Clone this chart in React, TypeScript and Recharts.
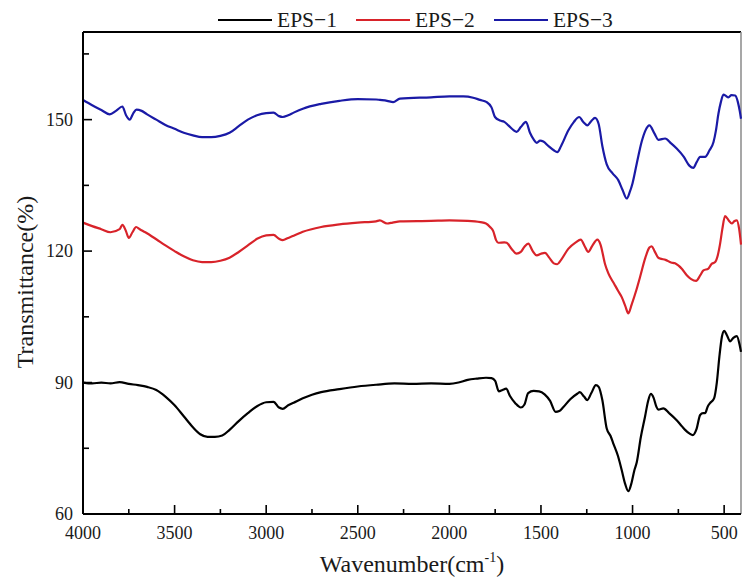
import { LineChart, Line, XAxis, YAxis, ReferenceLine, Label } from 'recharts';

// FTIR spectra, [wavenumber (cm-1), transmittance (%)]
const eps1 = [
  [4000, 90.0], [3950, 89.8], [3900, 90.0], [3850, 89.8], [3800, 90.1], [3750, 89.7],
  [3700, 89.4], [3650, 89.0], [3600, 88.3], [3550, 86.8], [3500, 84.8], [3450, 82.3],
  [3400, 79.8], [3360, 78.2], [3320, 77.6], [3280, 77.6], [3240, 77.9], [3200, 79.2],
  [3150, 81.2], [3100, 83.0], [3050, 84.6], [3000, 85.5], [2960, 85.6], [2930, 84.3],
  [2910, 84.0], [2880, 84.8], [2850, 85.4], [2800, 86.4], [2750, 87.2], [2700, 87.8],
  [2600, 88.5], [2500, 89.1], [2400, 89.5], [2300, 89.8], [2200, 89.7], [2100, 89.8],
  [2000, 89.7], [1950, 90.0], [1900, 90.6], [1850, 90.9], [1800, 91.1], [1770, 91.0],
  [1750, 90.4], [1730, 88.0], [1710, 88.3], [1690, 88.6], [1670, 87.0], [1640, 85.3],
  [1610, 84.3], [1590, 85.0], [1570, 87.6], [1540, 88.1], [1510, 88.0], [1480, 87.3],
  [1450, 85.8], [1420, 83.3], [1400, 83.5], [1380, 84.3], [1340, 86.2], [1300, 87.5],
  [1288, 87.8], [1265, 86.8], [1247, 86.0], [1225, 87.6], [1200, 89.4], [1185, 89.0],
  [1165, 86.0], [1141, 79.5], [1120, 77.8], [1106, 76.2], [1080, 73.3], [1059, 70.0],
  [1040, 66.8], [1023, 65.2], [1005, 67.2], [990, 70.0], [977, 71.8], [955, 77.5],
  [932, 82.2], [915, 85.8], [900, 87.4], [885, 86.5], [870, 84.5], [859, 83.8],
  [832, 84.1], [800, 83.0], [759, 81.4], [730, 80.0], [713, 79.2], [690, 78.4],
  [671, 78.0], [650, 79.5], [631, 82.6], [615, 83.0], [604, 83.0], [590, 84.5],
  [577, 85.3], [555, 86.4], [540, 90.0], [526, 95.9], [512, 100.5], [500, 101.8],
  [485, 100.8], [467, 99.4], [450, 100.2], [431, 100.6], [415, 98.5], [408, 97.0],
];

const eps2 = [
  [4000, 126.5], [3950, 125.7], [3900, 125.0], [3850, 124.3], [3800, 125.0], [3785, 126.0],
  [3765, 124.5], [3750, 123.0], [3730, 124.3], [3710, 125.5], [3690, 125.0], [3660, 124.3],
  [3600, 122.7], [3550, 121.3], [3500, 120.0], [3450, 118.8], [3400, 117.9], [3350, 117.5],
  [3300, 117.5], [3250, 117.8], [3200, 118.5], [3150, 119.8], [3100, 121.3], [3050, 122.8],
  [3000, 123.6], [2960, 123.7], [2930, 122.8], [2910, 122.5], [2880, 123.0], [2850, 123.5],
  [2800, 124.4], [2700, 125.5], [2600, 126.1], [2500, 126.5], [2400, 126.8], [2380, 127.0],
  [2340, 126.3], [2310, 126.5], [2270, 126.8], [2100, 126.9], [2000, 127.0], [1900, 126.9],
  [1830, 126.6], [1800, 126.3], [1778, 125.5], [1760, 124.5], [1745, 122.5], [1733, 121.9],
  [1700, 122.0], [1687, 121.9], [1660, 120.5], [1633, 119.4], [1610, 119.8], [1590, 121.0],
  [1569, 121.7], [1545, 120.0], [1523, 119.0], [1500, 119.4], [1478, 119.6], [1455, 118.5],
  [1430, 117.2], [1411, 117.0], [1390, 118.0], [1351, 120.5], [1310, 122.0], [1283, 122.6],
  [1260, 121.0], [1242, 119.8], [1220, 121.2], [1192, 122.6], [1175, 121.5], [1150, 117.0],
  [1132, 114.9], [1100, 112.5], [1080, 111.0], [1059, 109.5], [1040, 107.5], [1023, 105.8],
  [1005, 107.8], [980, 111.0], [959, 114.1], [930, 118.5], [908, 120.8], [895, 121.1],
  [880, 120.0], [860, 118.5], [850, 118.3], [820, 118.0], [790, 117.4], [768, 117.2],
  [730, 115.9], [704, 114.5], [680, 113.6], [653, 113.2], [630, 114.5], [613, 115.6],
  [586, 116.0], [570, 117.0], [549, 117.5], [535, 119.0], [522, 121.7], [510, 125.0],
  [495, 128.0], [475, 127.0], [458, 126.3], [445, 126.8], [431, 127.0], [418, 125.0],
  [408, 121.5],
];

const eps3 = [
  [4000, 154.5], [3950, 153.3], [3900, 152.2], [3854, 151.2], [3820, 152.0], [3785, 153.0],
  [3765, 151.0], [3745, 150.0], [3725, 151.5], [3708, 152.3], [3680, 152.0], [3650, 151.2],
  [3600, 150.0], [3550, 148.8], [3500, 147.9], [3450, 147.0], [3400, 146.4], [3350, 146.0],
  [3300, 146.0], [3250, 146.3], [3200, 147.0], [3150, 148.5], [3100, 150.0], [3050, 151.0],
  [3000, 151.5], [2960, 151.6], [2930, 150.8], [2910, 150.6], [2880, 151.0], [2850, 151.6],
  [2800, 152.5], [2700, 153.6], [2600, 154.3], [2500, 154.7], [2400, 154.6], [2379, 154.5],
  [2340, 154.3], [2307, 154.0], [2270, 154.8], [2100, 155.1], [2000, 155.3], [1924, 155.3],
  [1870, 155.0], [1833, 154.5], [1796, 154.0], [1770, 152.8], [1751, 150.6], [1724, 149.8],
  [1700, 149.5], [1678, 148.7], [1650, 147.6], [1633, 147.2], [1610, 148.3], [1582, 149.5],
  [1560, 147.0], [1540, 145.5], [1523, 144.7], [1505, 145.2], [1487, 145.0], [1460, 144.0],
  [1430, 143.0], [1411, 142.6], [1390, 144.0], [1351, 147.5], [1320, 149.5], [1291, 150.6],
  [1270, 149.5], [1247, 148.7], [1225, 149.7], [1205, 150.4], [1185, 149.0], [1165, 144.0],
  [1141, 139.8], [1110, 137.8], [1078, 136.2], [1055, 134.0], [1032, 132.0], [1015, 133.5],
  [1000, 135.5], [977, 140.0], [950, 145.0], [930, 147.5], [908, 148.7], [880, 146.8],
  [859, 145.4], [822, 145.7], [790, 144.6], [759, 143.4], [720, 141.5], [690, 139.5],
  [668, 139.0], [650, 140.3], [631, 141.5], [604, 141.5], [580, 143.0], [558, 144.9],
  [545, 147.5], [531, 151.4], [518, 154.0], [504, 155.7], [490, 155.4], [477, 155.1],
  [460, 155.6], [440, 155.5], [425, 154.0], [415, 152.0], [408, 150.2],
];

const seriesNames = ['EPS\u22121', 'EPS\u22122', 'EPS\u22123'];
const seriesColors = ['#000000', '#d8232a', '#1a1aa6'];
const seriesPoints = [eps1, eps2, eps3];

const xTicks = [500, 750, 1000, 1250, 1500, 1750, 2000, 2250, 2500, 2750, 3000, 3250, 3500, 3750, 4000];
const yTicks = [60, 75, 90, 105, 120, 135, 150, 165];

const FONT = '"Liberation Serif", "Times New Roman", serif';
const INK = '#1a1a1a';

const toRows = (pts: number[][]) => pts.map(([wn, t]) => ({ wn, t }));

function XTick(props: any) {
  const { x, y, payload } = props;
  const major = payload.value % 500 === 0;
  return (
    <g>
      <line x1={x} x2={x} y1={y} y2={y - (major ? 9 : 5)} stroke="#000" strokeWidth={1.6} />
      {major && (
        <text x={x} y={y + 25} textAnchor="middle" fontSize={18} fontFamily={FONT} fill={INK}>
          {payload.value}
        </text>
      )}
    </g>
  );
}

function YTick(props: any) {
  const { x, y, payload } = props;
  const major = payload.value % 30 === 0;
  return (
    <g>
      <line x1={x} x2={x + (major ? 9 : 6)} y1={y} y2={y} stroke="#000" strokeWidth={1.6} />
      {major && (
        <text x={x - 10} y={y + 6} textAnchor="end" fontSize={18} fontFamily={FONT} fill={INK}>
          {payload.value}
        </text>
      )}
    </g>
  );
}

function LegendRow() {
  return (
    <div
      style={{
        position: 'absolute',
        left: 218,
        top: 8,
        display: 'flex',
        alignItems: 'center',
        fontFamily: FONT,
        fontSize: 21.5,
        color: INK,
        lineHeight: '24px',
      }}
    >
      {seriesNames.map((name, i) => (
        <div key={name} style={{ display: 'flex', alignItems: 'center', marginRight: 19 }}>
          <span style={{ display: 'inline-block', width: 54, height: 2, background: seriesColors[i], marginRight: 5 }} />
          <span>{name}</span>
        </div>
      ))}
    </div>
  );
}

export default function App() {
  return (
    <div style={{ position: 'absolute', left: 0, top: 0, width: 742, height: 579, background: '#fff' }}>
      <LineChart width={742} height={579} margin={{ top: 32, right: 1, bottom: 25, left: 23 }}>
        <XAxis
          type="number"
          dataKey="wn"
          domain={[408, 4000]}
          reversed
          ticks={xTicks}
          interval={0}
          tick={<XTick />}
          tickLine={false}
          tickSize={0}
          tickMargin={0}
          height={40}
          axisLine={{ stroke: '#000', strokeWidth: 2 }}
          allowDuplicatedCategory={false}
        >
          <Label
            content={(p: any) => {
              const vb = p.viewBox;
              return (
                <text
                  x={vb.x + vb.width / 2}
                  y={vb.y + 58}
                  textAnchor="middle"
                  fontSize={24}
                  fontFamily={FONT}
                  fill={INK}
                >
                  <tspan>Wavenumber(cm</tspan>
                  <tspan fontSize={14} dy={-10}>-1</tspan>
                  <tspan dy={10}>)</tspan>
                </text>
              );
            }}
          />
        </XAxis>
        <YAxis
          type="number"
          domain={[60, 170]}
          ticks={yTicks}
          interval={0}
          tick={<YTick />}
          tickLine={false}
          tickSize={0}
          tickMargin={0}
          width={60}
          axisLine={{ stroke: '#000', strokeWidth: 2 }}
        >
          <Label
            content={() => (
              <text
                x={33}
                y={282}
                transform="rotate(-90 33 282)"
                textAnchor="middle"
                fontSize={24}
                fontFamily={FONT}
                fill={INK}
              >
                Transmittance(%)
              </text>
            )}
          />
        </YAxis>
        <ReferenceLine y={170} stroke="#000" strokeWidth={2} />
        <ReferenceLine x={408} stroke="#8a8a8a" strokeWidth={1.5} />
        {seriesPoints.map((pts, i) => (
          <Line
            key={seriesNames[i]}
            data={toRows(pts)}
            dataKey="t"
            name={seriesNames[i]}
            type="monotone"
            stroke={seriesColors[i]}
            strokeWidth={2.2}
            dot={false}
            activeDot={false}
            isAnimationActive={false}
          />
        ))}
      </LineChart>
      <LegendRow />
    </div>
  );
}
